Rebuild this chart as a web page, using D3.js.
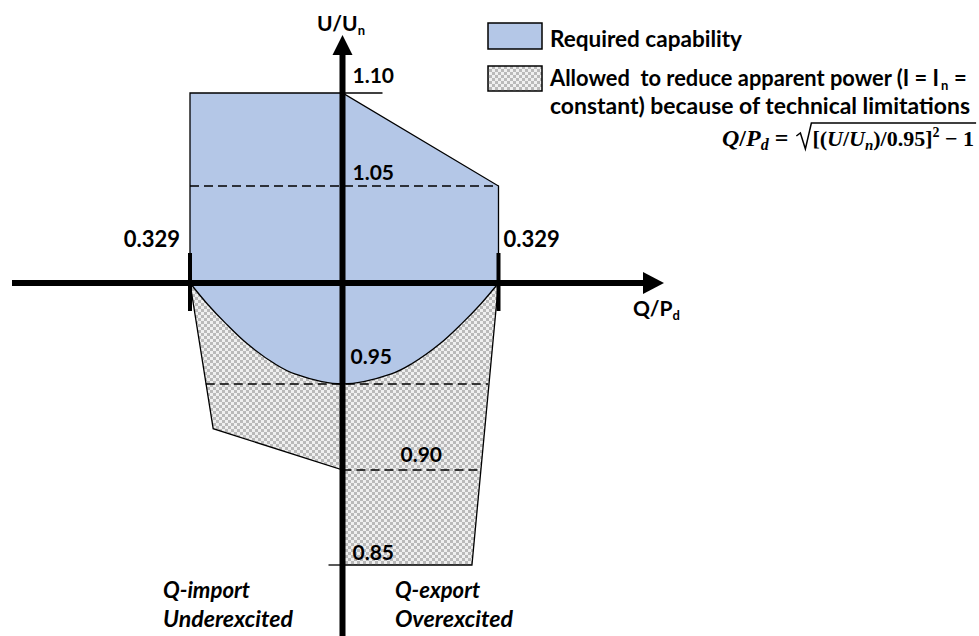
<!DOCTYPE html>
<html>
<head>
<meta charset="utf-8">
<script src="https://cdn.jsdelivr.net/npm/d3@7"></script>
<style>
body { margin: 0; background: #fff; }
text { font-family: Lato, "Open Sans", sans-serif; font-weight: bold; fill: #000; }
text.math { font-family: "Liberation Serif", "DejaVu Serif", serif; }
</style>
</head>
<body>
<svg width="979" height="636"></svg>
<script>
// U/Un levels on the vertical axis (piecewise, the drawing is not quite linear)
var uLevels = [0.85, 0.90, 0.95, 1.00, 1.05, 1.10];
var qLimits = [-0.329, 0, 0.329];

// required capability area, straight part (Q/Pd, U/Un)
var requiredQ = [-0.329, 0, 0.329, 0.329];
var requiredU = [1.10, 1.10, 1.05, 1.00];

// lower edge of required area (right half)
var curveU = [1.00, 0.99, 0.98, 0.97, 0.96, 0.955, 0.95];
var curveQ = [0.329, 0.293, 0.252, 0.206, 0.146, 0.103, 0];

// reduced apparent power area
var reducedQ = [-0.329, -0.279, 0, 0, 0.273, 0.329];
var reducedU = [1.00, 0.924, 0.90, 0.85, 0.85, 1.00];

// dashed reference levels
var dashU = [1.05, 0.95, 0.90];
var dashFrom = [-0.329, -0.295, 0];
var dashTo = [0.329, 0.307, 0.29];

// labelled levels
var labelU = [1.10, 1.05, 0.95, 0.90, 0.85];

var svg = d3.select("svg"),
    width = +svg.attr("width"),
    height = +svg.attr("height");

var x = d3.scaleLinear().domain(qLimits).range([190, 342.5, 498.5]);
var y = d3.scaleLinear().domain(uLevels).range([565, 470, 384, 283, 186, 93]);

// label offsets (dx, dy) per labelled level
var labelOffset = { "1.1": [10, -10], "1.05": [10, -6], "0.95": [8, -20], "0.9": [58, -8], "0.85": [10, -5] };

//checker pattern
var defs = svg.append("defs");
var pat = defs.append("pattern")
    .attr("id", "checker")
    .attr("patternUnits", "userSpaceOnUse")
    .attr("width", 6)
    .attr("height", 6);
pat.append("rect").attr("width", 6).attr("height", 6).attr("fill", "#efefef");
pat.append("rect").attr("width", 3).attr("height", 3).attr("fill", "#b9b9b9");
pat.append("rect").attr("x", 3).attr("y", 3).attr("width", 3).attr("height", 3).attr("fill", "#b9b9b9");

var line = d3.line().x(d => x(d[0])).y(d => y(d[1]));
var smooth = d3.line().x(d => x(d[0])).y(d => y(d[1])).curve(d3.curveCatmullRom);

// reduced area
var reducedPts = reducedQ.map((q, i) => [q, reducedU[i]]);
svg.append("path")
    .attr("d", line(reducedPts) + "Z")
    .attr("fill", "url(#checker)")
    .attr("stroke", "black")
    .attr("stroke-width", 1.3);

// required area
var straightPts = [[-0.329, 1.00]].concat(requiredQ.map((q, i) => [q, requiredU[i]]));
var right = curveQ.map((q, i) => [q, curveU[i]]);
var left = curveQ.slice(0, -1).map((q, i) => [-q, curveU[i]]).reverse();
var bowl = right.concat(left);
svg.append("path")
    .attr("d", line(straightPts) + smooth(bowl).replace(/^M/, "L") + "Z")
    .attr("fill", "#b4c7e7")
    .attr("stroke", "black")
    .attr("stroke-width", 1.3);

// dashed lines
svg.append("g").selectAll("line")
    .data(dashU)
    .enter().append("line")
    .attr("x1", (d, i) => x(dashFrom[i]))
    .attr("x2", (d, i) => x(dashTo[i]))
    .attr("y1", d => y(d))
    .attr("y2", d => y(d))
    .attr("stroke", "black")
    .attr("stroke-width", 1.3)
    .attr("stroke-dasharray", "9,5");

// small level ticks at 1.10 and 0.85
svg.append("line")
    .attr("x1", x(0)).attr("x2", x(0) + 40)
    .attr("y1", y(1.10)).attr("y2", y(1.10))
    .attr("stroke", "black").attr("stroke-width", 1.3);
svg.append("line")
    .attr("x1", x(0) - 14).attr("x2", x(0))
    .attr("y1", y(0.85)).attr("y2", y(0.85))
    .attr("stroke", "black").attr("stroke-width", 1.3);

// axes
svg.append("line")
    .attr("x1", 12).attr("x2", 646)
    .attr("y1", y(1)).attr("y2", y(1))
    .attr("stroke", "black").attr("stroke-width", 6);
svg.append("path")
    .attr("d", `M${664},${y(1)}L${643},${y(1) - 11}L${643},${y(1) + 11}Z`)
    .attr("fill", "black");
svg.append("line")
    .attr("x1", x(0)).attr("x2", x(0))
    .attr("y1", 52).attr("y2", height)
    .attr("stroke", "black").attr("stroke-width", 6);
svg.append("path")
    .attr("d", `M${x(0)},35L${x(0) - 10},55L${x(0) + 10},55Z`)
    .attr("fill", "black");

// thick ticks at +-0.329
svg.append("g").selectAll("line")
    .data([-0.329, 0.329])
    .enter().append("line")
    .attr("x1", d => x(d)).attr("x2", d => x(d))
    .attr("y1", y(1) - 30).attr("y2", y(1) + 28)
    .attr("stroke", "black").attr("stroke-width", 4);

// level labels
svg.append("g").selectAll("text")
    .data(labelU)
    .enter().append("text")
    .attr("x", d => x(0) + labelOffset[String(d)][0])
    .attr("y", d => y(d) + labelOffset[String(d)][1])
    .attr("font-size", 21)
    .text(d => d3.format(".2f")(d));

// 0.329 labels
svg.append("text")
    .attr("x", x(-0.329) - 10).attr("y", 247)
    .attr("text-anchor", "end").attr("font-size", 22)
    .text(d3.format(".3f")(0.329));
svg.append("text")
    .attr("x", x(0.329) + 5).attr("y", 247)
    .attr("font-size", 22)
    .text(d3.format(".3f")(0.329));

// axis titles
var ut = svg.append("text").attr("x", 317).attr("y", 31).attr("font-size", 21);
ut.append("tspan").text("U/U");
ut.append("tspan").attr("font-size", 13).attr("dy", 4).text("n");
var qt = svg.append("text").attr("x", 633).attr("y", 316).attr("font-size", 21);
qt.append("tspan").text("Q/P");
qt.append("tspan").attr("font-size", 13).attr("dy", 4).text("d");

// quadrant notes
[["Q-import", 163, 598, 87], ["Underexcited", 163, 627, 130], ["Q-export", 395, 598, 85], ["Overexcited", 395, 627, 118]]
    .forEach(t => {
        svg.append("text")
            .attr("x", t[1]).attr("y", t[2])
            .attr("font-size", 22).attr("font-style", "italic")
            .attr("textLength", t[3]).attr("lengthAdjust", "spacingAndGlyphs")
            .text(t[0]);
    });

// legend
svg.append("rect")
    .attr("x", 488).attr("y", 23).attr("width", 54).attr("height", 26)
    .attr("fill", "#b4c7e7").attr("stroke", "black").attr("stroke-width", 1.5);
svg.append("rect")
    .attr("x", 488).attr("y", 66).attr("width", 54).attr("height", 25)
    .attr("fill", "url(#checker)").attr("stroke", "black").attr("stroke-width", 1.5);

svg.append("text").attr("x", 550).attr("y", 47).attr("font-size", 22)
    .attr("textLength", 192).attr("lengthAdjust", "spacingAndGlyphs")
    .text("Required capability");
svg.append("text").attr("x", 550).attr("y", 86).attr("font-size", 22)
    .attr("textLength", 389).attr("lengthAdjust", "spacingAndGlyphs")
    .style("white-space", "pre")
    .text("Allowed  to reduce apparent power (I = I");
svg.append("text").attr("x", 941).attr("y", 90).attr("font-size", 13).text("n");
svg.append("text").attr("x", 954).attr("y", 86).attr("font-size", 22).text("=");
svg.append("text").attr("x", 550).attr("y", 114).attr("font-size", 22)
    .attr("textLength", 420).attr("lengthAdjust", "spacingAndGlyphs")
    .text("constant) because of technical limitations");

// formula
var eq = svg.append("text").attr("class", "math").attr("x", 722).attr("y", 146).attr("font-size", 24);
eq.append("tspan").attr("font-style", "italic").text("Q");
eq.append("tspan").text("/");
eq.append("tspan").attr("font-style", "italic").text("P");
eq.append("tspan").attr("font-style", "italic").attr("font-size", 16).attr("dy", 4).text("d");
eq.append("tspan").attr("dy", -4).text("\u00a0=\u00a0");
var rx = 722 + eq.node().getComputedTextLength() + 2;

var eq2 = svg.append("text").attr("class", "math").attr("x", rx + 16).attr("y", 146).attr("font-size", 22);
eq2.append("tspan").text("[(");
eq2.append("tspan").attr("font-style", "italic").text("U");
eq2.append("tspan").text("/");
eq2.append("tspan").attr("font-style", "italic").text("U");
eq2.append("tspan").attr("font-style", "italic").attr("font-size", 15).attr("dy", 4).text("n");
eq2.append("tspan").attr("dy", -4).text(")/0.95]");
eq2.append("tspan").attr("font-size", 14).attr("dy", -9).text("2");
eq2.append("tspan").attr("dy", 9).text("\u00a0\u2212\u00a01");
var rEnd = rx + 16 + eq2.node().getComputedTextLength() + 2;

svg.append("path")
    .attr("d", `M${rx},136L${rx + 4},133L${rx + 9},149L${rx + 15},123L${rEnd},123`)
    .attr("fill", "none").attr("stroke", "black").attr("stroke-width", 1.5);
</script>
</body>
</html>
